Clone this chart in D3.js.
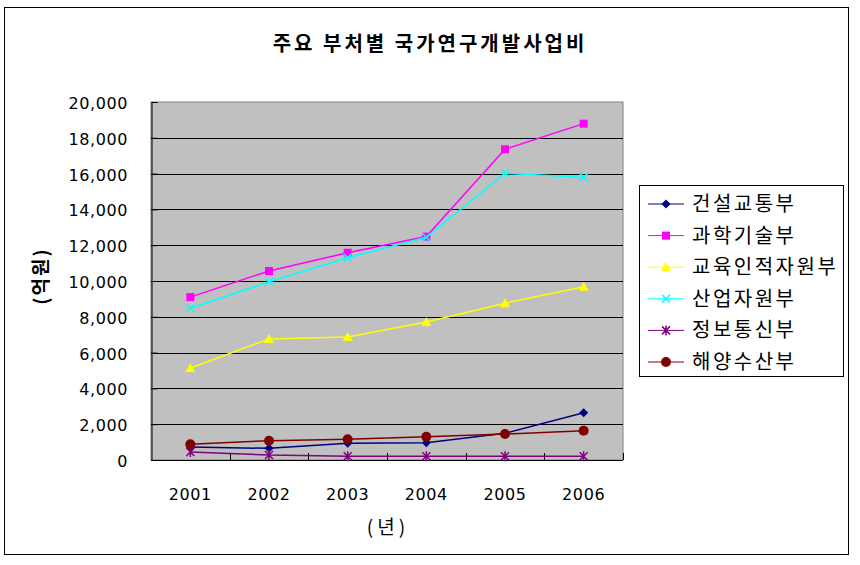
<!DOCTYPE html>
<html>
<head>
<meta charset="utf-8">
<script src="https://cdn.jsdelivr.net/npm/d3@7"></script>
<style>
  body { margin: 0; background: #fff; }
  text { font-family: "Noto Sans CJK KR", "DejaVu Sans", sans-serif; }
  .num { font-family: "DejaVu Sans", sans-serif; }
</style>
</head>
<body>
<div id="chart"></div>
<script>
// years on the x axis
const years = ["2001", "2002", "2003", "2004", "2005", "2006"];

// one array per ministry (unit: 억원)
const construction = [730, 650, 930, 970, 1490, 2640];
const science = [9100, 10560, 11580, 12480, 17360, 18790];
const education = [5140, 6760, 6870, 7710, 8760, 9680];
const industry = [8480, 9960, 11300, 12440, 16020, 15790];
const telecom = [450, 280, 210, 210, 210, 210];
const ocean = [880, 1080, 1160, 1300, 1450, 1640];

const seriesNames = ["건설교통부", "과학기술부", "교육인적자원부", "산업자원부", "정보통신부", "해양수산부"];
const yTicks = [0, 2000, 4000, 6000, 8000, 10000, 12000, 14000, 16000, 18000, 20000];

const series = [
  { name: seriesNames[0], values: construction, color: "#000080", marker: "diamond" },
  { name: seriesNames[1], values: science, color: "#FF00FF", marker: "square" },
  { name: seriesNames[2], values: education, color: "#FFFF00", marker: "triangle" },
  { name: seriesNames[3], values: industry, color: "#00FFFF", marker: "x" },
  { name: seriesNames[4], values: telecom, color: "#800080", marker: "star" },
  { name: seriesNames[5], values: ocean, color: "#800000", marker: "circle" }
];

const width = 860, height = 565;
const plot = { left: 151, top: 102, right: 623, bottom: 460 };

const svg = d3.select("#chart").append("svg")
  .attr("width", width)
  .attr("height", height);

// outer chart border
svg.append("rect")
  .attr("x", 4.5).attr("y", 7.5)
  .attr("width", 844).attr("height", 547)
  .attr("fill", "#fff").attr("stroke", "#000").attr("stroke-width", 1);

// title
svg.append("text")
  .attr("x", 430).attr("y", 51)
  .attr("text-anchor", "middle")
  .style("font-size", "20px").style("font-weight", "bold")
  .style("letter-spacing", "3px")
  .text("주요 부처별 국가연구개발사업비");

const x = d3.scaleBand().domain(years).range([plot.left, plot.right]);
const y = d3.scaleLinear().domain([0, 20000]).range([plot.bottom, plot.top]);

// plot background
svg.append("rect")
  .attr("x", plot.left).attr("y", plot.top)
  .attr("width", plot.right - plot.left).attr("height", plot.bottom - plot.top)
  .attr("fill", "#C0C0C0").attr("stroke", "#808080");

// gridlines
svg.append("g")
  .selectAll("line")
  .data(yTicks.filter(d => d > 0 && d < 20000))
  .join("line")
  .attr("x1", plot.left).attr("x2", plot.right)
  .attr("y1", d => Math.round(y(d)) + 0.5).attr("y2", d => Math.round(y(d)) + 0.5)
  .attr("stroke", "#000");

// y axis
const yAxis = svg.append("g")
  .attr("transform", `translate(${plot.left + 0.5},0)`)
  .call(d3.axisRight(y).tickValues(yTicks).tickSize(6).tickFormat(""));
yAxis.select(".domain").attr("stroke", "#000");

svg.append("g")
  .selectAll("text")
  .data(yTicks)
  .join("text")
  .attr("class", "num")
  .attr("x", 128).attr("y", d => y(d) + 7)
  .attr("text-anchor", "end")
  .style("font-size", "16px")
  .style("letter-spacing", "0.6px")
  .text(d => d3.format(",")(d));

// x axis with ticks between categories pointing up
const xAxisG = svg.append("g");
xAxisG.append("line")
  .attr("x1", plot.left).attr("x2", plot.right)
  .attr("y1", plot.bottom + 0.5).attr("y2", plot.bottom + 0.5)
  .attr("stroke", "#000");
xAxisG.selectAll("line.tick")
  .data(years)
  .join("line")
  .attr("class", "tick")
  .attr("x1", (d, i) => Math.round(x(d) + x.step()) + 0.5)
  .attr("x2", (d, i) => Math.round(x(d) + x.step()) + 0.5)
  .attr("y1", plot.bottom).attr("y2", plot.bottom - 7)
  .attr("stroke", "#000");

svg.append("g")
  .selectAll("text")
  .data(years)
  .join("text")
  .attr("class", "num")
  .attr("x", d => x(d) + x.bandwidth() / 2)
  .attr("y", 500)
  .attr("text-anchor", "middle")
  .style("font-size", "16px")
  .style("letter-spacing", "0.6px")
  .text(d => d);

// axis titles
svg.append("text")
  .attr("x", 388).attr("y", 534)
  .attr("text-anchor", "middle")
  .style("font-size", "19px")
  .style("letter-spacing", "4px")
  .text("(년)");

svg.append("text")
  .attr("transform", "translate(48,276) rotate(-90)")
  .attr("text-anchor", "middle")
  .style("font-size", "19px").style("font-weight", "bold")
  .style("letter-spacing", "2px")
  .text("(억원)");

// marker drawing
function drawMarker(g, type, color) {
  if (type === "diamond") {
    g.append("path").attr("d", "M0,-4.5L4.5,0L0,4.5L-4.5,0Z").attr("fill", color);
  } else if (type === "square") {
    g.append("rect").attr("x", -4).attr("y", -4).attr("width", 8).attr("height", 8).attr("fill", color);
  } else if (type === "triangle") {
    g.append("path").attr("d", "M0,-5L5,4L-5,4Z").attr("fill", color);
  } else if (type === "x") {
    g.append("path").attr("d", "M-4,-4L4,4M-4,4L4,-4").attr("stroke", color).attr("stroke-width", 1.5);
  } else if (type === "star") {
    g.append("path").attr("d", "M-4,-4L4,4M-4,4L4,-4M0,-5L0,5").attr("stroke", color).attr("stroke-width", 1.5);
  } else if (type === "circle") {
    g.append("circle").attr("r", 5).attr("fill", color);
  }
}

const line = d3.line()
  .x((d, i) => x(years[i]) + x.bandwidth() / 2)
  .y(d => y(d));

const lines = svg.append("g");
series.forEach(s => {
  lines.append("path")
    .attr("d", line(s.values))
    .attr("fill", "none")
    .attr("stroke", s.color)
    .attr("stroke-width", 1.5);
  s.values.forEach((v, i) => {
    const g = lines.append("g")
      .attr("transform", `translate(${x(years[i]) + x.bandwidth() / 2},${y(v)})`);
    drawMarker(g, s.marker, s.color);
  });
});

// legend
const legend = svg.append("g");
legend.append("rect")
  .attr("x", 639.5).attr("y", 185.5)
  .attr("width", 204).attr("height", 191)
  .attr("fill", "#fff").attr("stroke", "#000");

series.forEach((s, i) => {
  const ly = 204 + i * 31.6;
  legend.append("line")
    .attr("x1", 648).attr("x2", 684)
    .attr("y1", ly).attr("y2", ly)
    .attr("stroke", s.color).attr("stroke-width", 1);
  const g = legend.append("g").attr("transform", `translate(666,${ly})`);
  drawMarker(g, s.marker, s.color);
  legend.append("text")
    .attr("x", 692).attr("y", ly + 7)
    .style("font-size", "20px")
    .style("letter-spacing", "2.5px")
    .text(s.name);
});
</script>
</body>
</html>
